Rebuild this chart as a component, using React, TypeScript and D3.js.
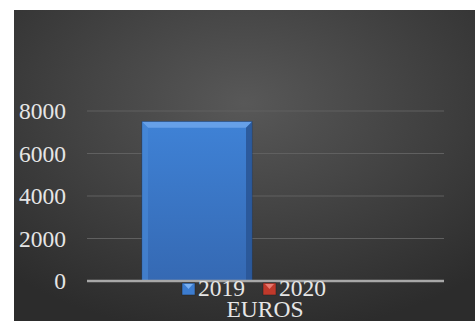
import React from "react";
import * as d3 from "d3";

const categories = ["EUROS"];
const seriesNames = ["2019", "2020"];
const values2019 = [7500];
const values2020 = [0];
const yTicks = [0, 2000, 4000, 6000, 8000];
const seriesColors = ["#3c7ccf", "#c0392b"];

export default function App() {
  const W = 475, H = 321;
  const plotL = 87, plotR = 444;
  const y = d3.scaleLinear().domain([0, 8000]).range([281, 111]);
  const xCat = d3.scaleBand().domain(categories).range([plotL, plotR]);
  const xSer = d3.scaleBand().domain(seriesNames).range([142 - plotL, 362 - plotL]).padding(0);
  const seriesVals = [values2019, values2020];
  const bev = 6;
  return (
    <svg width={W} height={H} style={{ position: "absolute", left: 0, top: 0, fontFamily: "'Liberation Serif', 'Times New Roman', serif" }}>
      <defs>
        <radialGradient id="bg" cx="0.5" cy="0.3" r="0.75">
          <stop offset="0" stopColor="#585858" />
          <stop offset="1" stopColor="#2c2c2c" />
        </radialGradient>
        <linearGradient id="barG" x1="0" y1="0" x2="0" y2="1">
          <stop offset="0" stopColor="#3f82d6" />
          <stop offset="1" stopColor="#3569b3" />
        </linearGradient>
      </defs>
      <rect x={0} y={0} width={W} height={H} fill="#ffffff" />
      <rect x={14} y={10} width={W - 14} height={H - 10} fill="url(#bg)" />
      {yTicks.filter(t => t > 0).map(t => (
        <line key={t} x1={plotL} x2={plotR} y1={y(t)} y2={y(t)} stroke="#606060" strokeWidth={1.2} />
      ))}
      {categories.map((c, ci) =>
        seriesNames.map((s, si) => {
          const v = seriesVals[si][ci];
          if (v <= 0) return null;
          const x0 = (xCat(c) as number) + (xSer(s) as number);
          const w = xSer.bandwidth();
          const top = y(v), bot = y(0);
          return (
            <g key={c + s}>
              <rect x={x0} y={top} width={w} height={bot - top} fill="url(#barG)" stroke="#1f3f6e" strokeWidth={0.8} />
              <polygon points={`${x0},${top} ${x0 + w},${top} ${x0 + w - bev},${top + bev} ${x0 + bev},${top + bev}`} fill="#6aa3ea" opacity={0.9} />
              <polygon points={`${x0 + w},${top} ${x0 + w},${bot} ${x0 + w - bev},${bot} ${x0 + w - bev},${top + bev}`} fill="#2a5797" opacity={0.9} />
              <polygon points={`${x0},${top} ${x0 + bev},${top + bev} ${x0 + bev},${bot} ${x0},${bot}`} fill="#4a8ad8" opacity={0.6} />
            </g>
          );
        })
      )}
      <line x1={plotL} x2={plotR} y1={y(0)} y2={y(0)} stroke="#a8a8a8" strokeWidth={2.5} />
      {yTicks.map(t => (
        <text key={t} x={66} y={y(t)} dy="0.35em" textAnchor="end" fontSize={23.5} fill="#e6e6e6">{t}</text>
      ))}
      {seriesNames.map((s, i) => {
        const lx = i === 0 ? 182 : 263;
        return (
          <g key={s}>
            <rect x={lx} y={283} width={13} height={12} fill={seriesColors[i]} stroke="#222" strokeWidth={0.5} />
            <polygon points={`${lx + 2},${284} ${lx + 11},${284} ${lx + 6.5},${289}`} fill={i === 0 ? "#7ab0f0" : "#e87a70"} />
            <text x={lx + 16} y={296} fontSize={23.5} fill="#e6e6e6">{s}</text>
          </g>
        );
      })}
      <text x={265} y={317} textAnchor="middle" fontSize={23.5} fill="#e6e6e6">{categories[0]}</text>
    </svg>
  );
}
